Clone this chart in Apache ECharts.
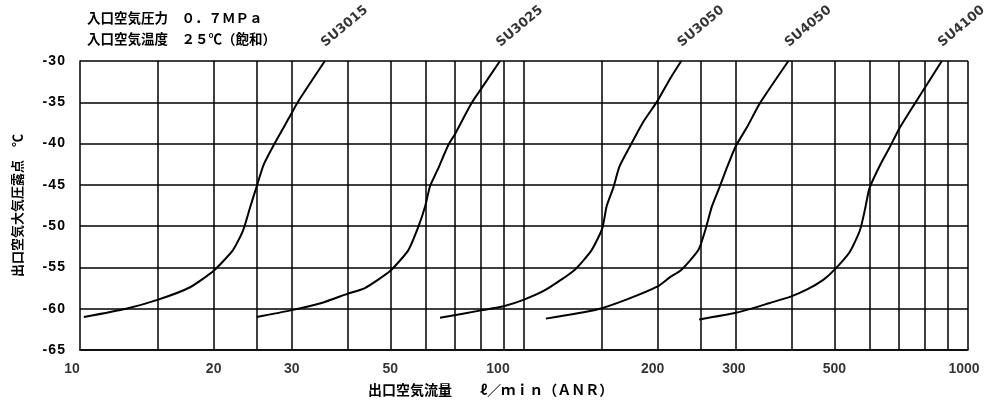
<!DOCTYPE html>
<html><head><meta charset="utf-8">
<script src="https://cdn.jsdelivr.net/npm/echarts@6/dist/echarts.min.js"></script>
<style>html,body{margin:0;padding:0;background:#fff}#c{width:986px;height:401px}</style>
</head><body><div id="c"></div>
<script>
// ---- data (flow ℓ/min, dew point ℃) ----
const su3015 = [[10.2,-61.0],[12.7,-60.0],[15,-58.9],[17.7,-57.4],[20,-55.4],[22.1,-52.9],[23.3,-50.5],[24.2,-47.6],[25,-45.2],[25.9,-42.6],[27.3,-40.2],[29.7,-36.7],[31,-34.9],[35.6,-30]];
const su3025 = [[25,-61.0],[29.8,-60.2],[35,-59.3],[40,-58.2],[43.8,-57.5],[50,-55.4],[54.9,-52.9],[57.8,-50.1],[59.9,-47.6],[61.4,-45.2],[64.1,-43.0],[67.5,-40.2],[70,-38.8],[76.2,-35.1],[80,-33.4],[88.3,-30]];
const su3050 = [[64.7,-61.1],[80,-60.2],[90,-59.7],[100,-58.9],[112,-57.7],[130,-55.3],[142,-52.9],[150,-50.3],[153.5,-47.6],[159,-45.3],[164,-42.8],[173,-40.4],[185,-37.5],[200,-34.8],[213,-32.2],[226,-30]];
const su4050 = [[112,-61.2],[146,-60.1],[170,-58.9],[200,-57.3],[213,-56.2],[226,-55.3],[247,-52.9],[256,-50.5],[265,-47.6],[276,-45.2],[287,-42.8],[300,-40.3],[318,-38.0],[340,-35.1],[394,-30]];
const su4100 = [[248,-61.3],[300,-60.5],[358,-59.3],[400,-58.5],[433,-57.7],[472,-56.5],[500,-55.3],[542,-53.1],[571,-50.5],[586,-48.0],[600,-45.4],[634,-42.6],[667,-40.4],[700,-38.2],[760,-35.1],[807,-32.9],[873,-30]];
const seriesNames = ['SU3015','SU3025','SU3050','SU4050','SU4100'];
const gridXValues = [15,20,25,30,40,50,60,70,80,90,100,150,200,250,300,400,500,600,700,800,900,1000];
const xTickLabels = [10,20,30,50,100,200,300,500,1000];
const titleLine1 = '入口空気圧力　０．７ＭＰａ';
const titleLine2 = '入口空気温度　２５℃（飽和）';
const xAxisTitle = '出口空気流量　　ℓ／ｍｉｎ（ＡＮＲ）';
const yAxisTitle = '出口空気大気圧露点　℃';

// ---- styling ----
const curves = [su3015, su3025, su3050, su4050, su4100];
const labelShift = {10:-8, 100:-26, 200:-5, 300:-2, 1000:-4};
const numFont = "'Liberation Sans', 'DejaVu Sans', sans-serif";
const cjkFont = "'Noto Sans CJK JP', sans-serif";
const spaced = s => String(s).split('').join('\u200A');

const series = curves.map((c, i) => ({
  type: 'line', name: seriesNames[i], data: c, symbol: 'none', smooth: 0.2,
  lineStyle: { color: '#000', width: 2 }, silent: true, z: 4
}));
series.push({
  type: 'line', data: [], silent: true,
  markLine: {
    silent: true, symbol: ['none', 'none'], label: { show: false },
    lineStyle: { color: '#000', width: 1.5, type: 'solid' },
    emphasis: { disabled: true },
    data: gridXValues.map(v => ({ xAxis: v }))
  }
});
series.push({
  type: 'scatter', silent: true, clip: false, symbolSize: 1,
  itemStyle: { color: 'rgba(0,0,0,0)' },
  data: xTickLabels.map(v => ({ value: [v, -65], label: { offset: [labelShift[v] || 0, 0] } })),
  label: { show: true, position: 'bottom', distance: 12, color: '#000', fontSize: 14, fontWeight: 'bold',
    fontFamily: numFont, formatter: p => String(p.value[0]) }
});
series.push({
  type: 'scatter', silent: true, clip: false, symbolSize: 1,
  itemStyle: { color: 'rgba(0,0,0,0)' },
  data: curves.map((c, i) => ({ value: c[c.length - 1], name: seriesNames[i] })),
  label: { show: true, position: [3, -11], align: 'left', verticalAlign: 'bottom', rotate: 40,
    color: '#000', fontSize: 13, fontWeight: 'bold', fontFamily: "'DejaVu Sans', sans-serif", formatter: '{b}' }
});

const chart = echarts.init(document.getElementById('c'), null, { renderer: 'canvas' });
chart.setOption({
  backgroundColor: '#fff',
  animation: false,
  title: [
    { text: titleLine1, left: 87, top: 11, padding: 0, textStyle: { fontSize: 13.5, fontWeight: 'bold', fontFamily: cjkFont, color: '#000' } },
    { text: titleLine2, left: 87, top: 32, padding: 0, textStyle: { fontSize: 13.5, fontWeight: 'bold', fontFamily: cjkFont, color: '#000' } },
    { text: xAxisTitle, left: 368, top: 383, padding: 0, textStyle: { fontSize: 14, fontWeight: 'bold', fontFamily: cjkFont, color: '#000' } }
  ],
  grid: { left: 80, right: 18, top: 61, bottom: 51 },
  xAxis: {
    type: 'log', logBase: 10, min: 10, max: 1000,
    axisLine: { show: true, lineStyle: { color: '#000', width: 1.5 } },
    axisTick: { show: false }, axisLabel: { show: false }, splitLine: { show: false }
  },
  yAxis: {
    type: 'value', min: -65, max: -30, interval: 5,
    name: yAxisTitle, nameLocation: 'middle', nameGap: 56, nameRotate: 90,
    nameTextStyle: { fontSize: 13, fontWeight: 'bold', fontFamily: cjkFont, color: '#000' },
    axisLine: { show: true, lineStyle: { color: '#000', width: 1.5 } },
    axisTick: { show: false },
    axisLabel: { margin: 15, color: '#000', fontSize: 14, fontWeight: 'bold', fontFamily: numFont,
      formatter: v => spaced(v) },
    splitLine: { show: true, lineStyle: { color: '#000', width: 1.5 } }
  },
  series: series
});
</script>
</body></html>
